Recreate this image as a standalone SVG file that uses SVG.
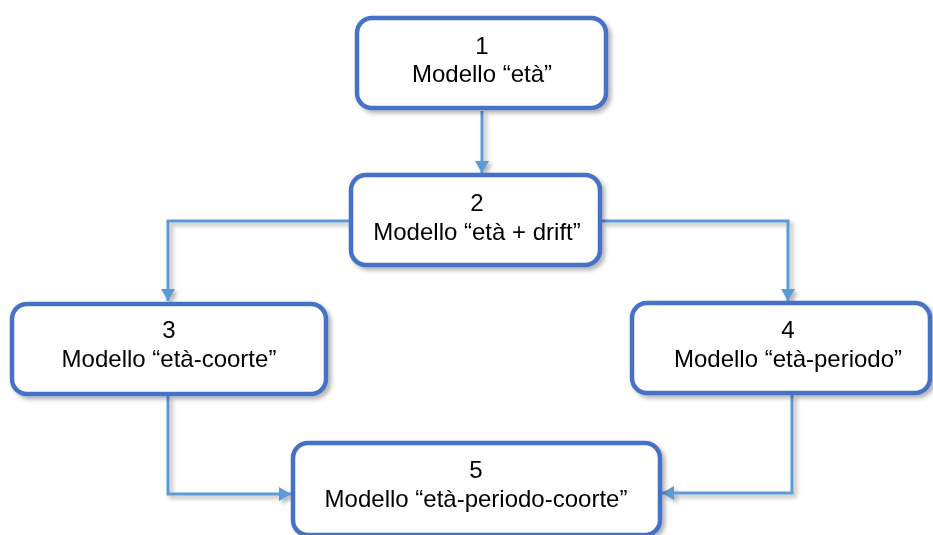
<svg xmlns="http://www.w3.org/2000/svg" width="933" height="535" viewBox="0 0 933 535">
  <style>
    .box { fill: #ffffff; stroke: #4472C4; stroke-width: 4.5; }
    .lbl { font-family: "Liberation Sans", Arial, sans-serif; font-size: 24px; fill: #000000; text-anchor: middle; }
    .conn { fill: none; stroke: #5B9BD5; stroke-width: 3; }
  </style>
  <defs>
    <filter id="shadow" x="-10%" y="-10%" width="130%" height="140%">
      <feDropShadow dx="3" dy="3" stdDeviation="2" flood-color="#000000" flood-opacity="0.3"/>
    </filter>
    <marker id="arrow" markerUnits="userSpaceOnUse" markerWidth="16" markerHeight="16" refX="12" refY="7" orient="auto">
      <path d="M0,0 L12,7 L0,14 Z" fill="#5B9BD5"/>
    </marker>
  </defs>
  <rect width="933" height="535" fill="#ffffff"/>

  <g id="connectors" filter="url(#shadow)">
    <path class="conn" d="M482,111 L482,173" marker-end="url(#arrow)"/>
    <path class="conn" d="M350,221 L168,221 L168,301" marker-end="url(#arrow)"/>
    <path class="conn" d="M602,221 L788,221 L788,301" marker-end="url(#arrow)"/>
    <path class="conn" d="M168,396 L168,494 L291,494" marker-end="url(#arrow)"/>
    <path class="conn" d="M792,395 L792,493 L662,493" marker-end="url(#arrow)"/>
  </g>

  <g id="node1" filter="url(#shadow)">
    <rect class="box" x="357" y="18" width="249" height="90" rx="15"/>
    <text class="lbl" x="482" y="54">1</text>
    <text class="lbl" x="482" y="82">Modello “età”</text>
  </g>

  <g id="node2" filter="url(#shadow)">
    <rect class="box" x="351" y="175" width="249" height="90" rx="15"/>
    <text class="lbl" x="477" y="211">2</text>
    <text class="lbl" x="477" y="240">Modello “età + drift”</text>
  </g>

  <g id="node3" filter="url(#shadow)">
    <rect class="box" x="12" y="304" width="314" height="90" rx="15"/>
    <text class="lbl" x="169" y="338">3</text>
    <text class="lbl" x="169" y="367">Modello “età-coorte”</text>
  </g>

  <g id="node4" filter="url(#shadow)">
    <rect class="box" x="632" y="303" width="298" height="90" rx="15"/>
    <text class="lbl" x="788" y="338">4</text>
    <text class="lbl" x="788" y="367">Modello “età-periodo”</text>
  </g>

  <g id="node5" filter="url(#shadow)">
    <rect class="box" x="293" y="443" width="367" height="92" rx="15"/>
    <text class="lbl" x="476" y="478">5</text>
    <text class="lbl" x="476" y="507">Modello “età-periodo-coorte”</text>
  </g>
</svg>
